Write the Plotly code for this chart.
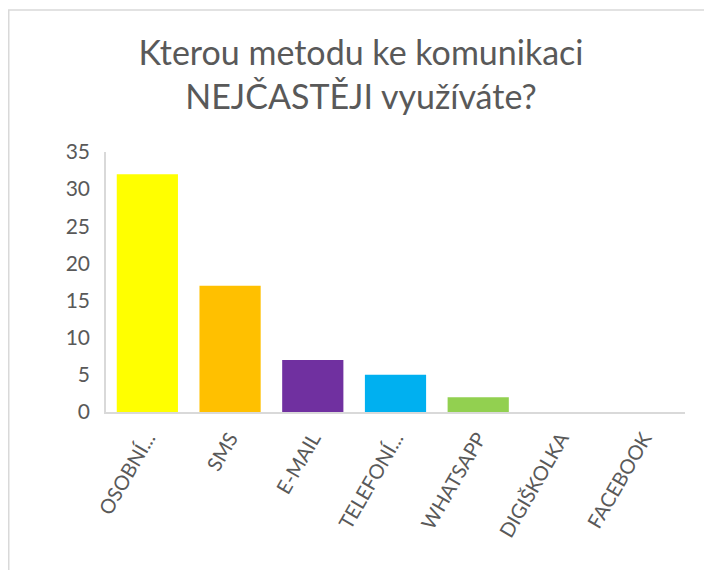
import plotly.graph_objects as go

categories = ["OSOBNÍ...", "SMS", "E-MAIL", "TELEFONÍ...", "WHATSAPP", "DIGIŠKOLKA", "FACEBOOK"]
values = [32, 17, 7, 5, 2, 0, 0]
colors = ["#FFFF00", "#FFC000", "#7030A0", "#00B0F0", "#92D050", "#4472C4", "#ED7D31"]
y_ticks = [0, 5, 10, 15, 20, 25, 30, 35]

# page body has an 8px margin; figure sized/offset to compensate
W, H = 696, 562
L, R, T, B = 98, 19, 144, 158

fig = go.Figure(go.Bar(x=categories, y=values, marker=dict(color=colors, line=dict(width=0)),
                       hoverinfo="x+y"))

pw = W - L - R
ph = H - T - B

fig.update_layout(
    width=W, height=H,
    margin=dict(l=L, r=R, t=T, b=B),
    paper_bgcolor="white", plot_bgcolor="white",
    bargap=0.26,
    showlegend=False,
    font=dict(family="Lato, Open Sans, sans-serif", color="#595959"),
    title=dict(text="Kterou metodu ke komunikaci<br>NEJČASTĚJI využíváte?",
               font=dict(size=34, color="#595959", family="Lato, sans-serif"),
               x=353 / W, xanchor="center", xref="container",
               y=1 - 57 / H, yanchor="top", yref="container"),
    xaxis=dict(tickangle=-60, tickfont=dict(size=20, color="#595959"),
               showline=True, linecolor="#d9d9d9", linewidth=1.5,
               ticks="outside", ticklen=5, tickcolor="rgba(0,0,0,0)",
               showgrid=False, zeroline=False, fixedrange=True),
    yaxis=dict(range=[0, 35], tickvals=y_ticks, tickfont=dict(size=21, color="#595959"),
               showline=True, linecolor="#d9d9d9", linewidth=1.5,
               ticks="outside", ticklen=10, tickcolor="rgba(0,0,0,0)",
               showgrid=False, zeroline=False, fixedrange=True),
    shapes=[dict(type="rect", xref="paper", yref="paper",
                 x0=(0.75 - L) / pw, x1=(W + 20 - L) / pw,
                 y0=(H - B - (H + 20)) / ph, y1=(H - B - 2) / ph,
                 line=dict(color="#d9d9d9", width=1.5), fillcolor="rgba(0,0,0,0)", layer="below")],
)

fig.write_html("out.html")
